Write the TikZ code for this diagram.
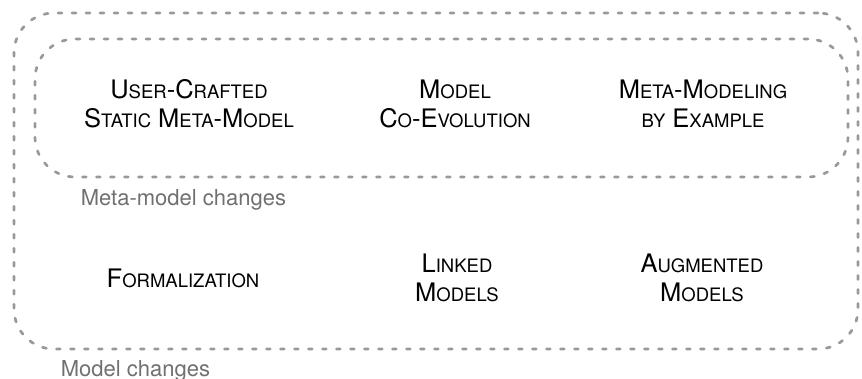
\documentclass[tikz,border=0pt]{standalone}
\usepackage{fontspec}
\setmainfont{TeX Gyre Heros}
\usetikzlibrary{positioning}
\definecolor{dashgray}{HTML}{999999}
\definecolor{labelgray}{HTML}{707070}
\newcommand{\smc}[1]{{\fontsize{18.5}{29}\selectfont #1}}

\begin{document}
\begin{tikzpicture}[
  x=1pt, y=-1pt,
  group/.style={draw=dashgray, line width=2.7pt, line cap=round, dash pattern=on 4pt off 10pt, rounded corners=40pt, inner sep=0pt},
  topic/.style={align=center, font=\fontsize{25.5}{29}\selectfont, inner sep=0pt},
  caption/.style={anchor=base west, text=labelgray, font=\fontsize{22}{24}\selectfont, inner sep=0pt}
]
\useasboundingbox (0,0) rectangle (862,379);
\node[group, minimum width=844pt, minimum height=336pt] (models) at (436,181) {};
\node[group, minimum width=813pt, minimum height=138pt] (metamodels) at (441.5,108) {};

\node[topic] (static) at (189,104) {U\smc{SER}-C\smc{RAFTED}\\S\smc{TATIC} M\smc{ETA}-M\smc{ODEL}};
\node[topic] (coevo) at (455,104) {M\smc{ODEL}\\C\smc{O}-E\smc{VOLUTION}};
\node[topic] (byex) at (703,104) {M\smc{ETA}-M\smc{ODELING}\\\smc{BY} E\smc{XAMPLE}};

\node[topic] (formal) at (183,278) {F\smc{ORMALIZATION}};
\node[topic] (linked) at (457,278) {L\smc{INKED}\\M\smc{ODELS}};
\node[topic] (augm) at (702,278) {A\smc{UGMENTED}\\M\smc{ODELS}};

\node[caption] (metalabel) at ([xshift=47pt, yshift=-27pt]metamodels.south west) {Meta-model changes};
\node[caption] (modellabel) at ([xshift=48pt, yshift=-26pt]models.south west) {Model changes};
\end{tikzpicture}
\end{document}
